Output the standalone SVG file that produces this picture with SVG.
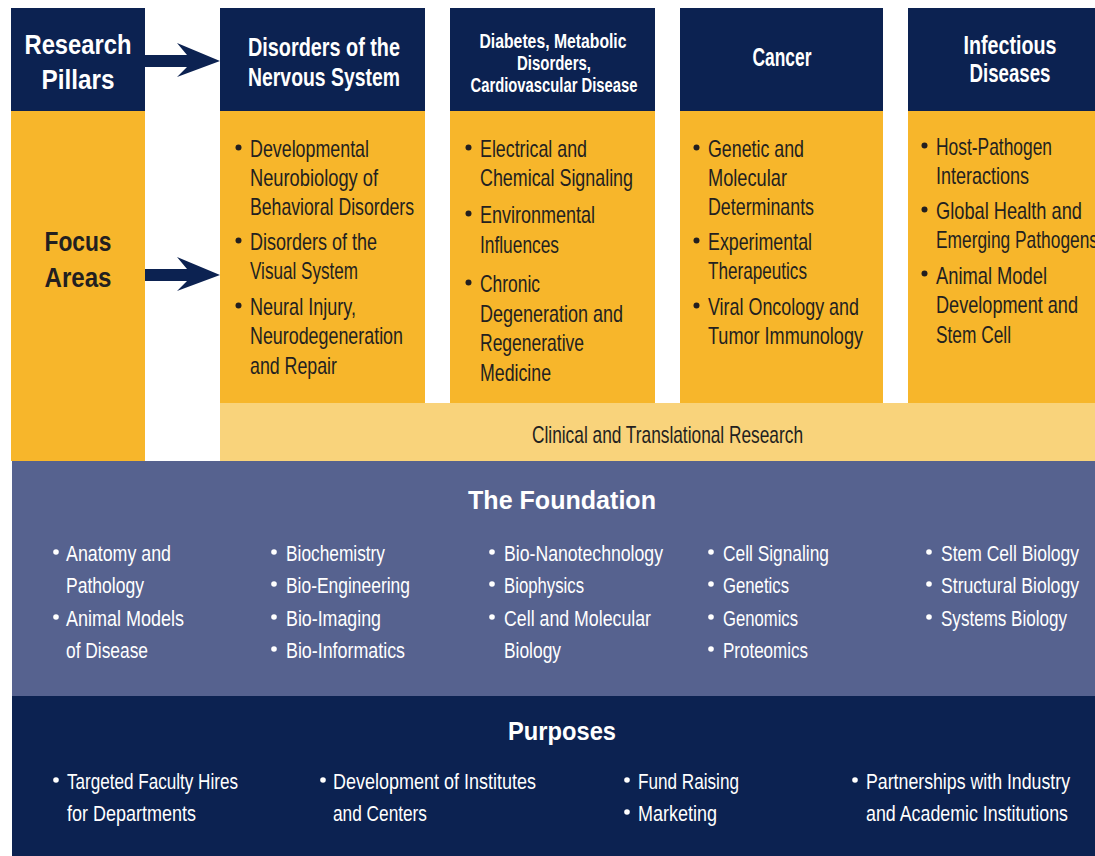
<svg xmlns="http://www.w3.org/2000/svg" width="1095" height="856" viewBox="0 0 1095 856">
<style>
.navy{fill:#0c2251}
.gold{fill:#f7b62b}
.pale{fill:#f9d37b}
.slate{fill:#56628f}
text{font-family:"Liberation Sans Narrow","Liberation Sans",Arial,sans-serif}
.h{font-weight:bold;fill:#ffffff;text-anchor:middle}
.hd{font-weight:bold;fill:#231f20;text-anchor:middle}
.t{fill:#231f20;font-size:24px}
.w{fill:#ffffff;font-size:22px}
.bd{fill:#231f20}
.bw{fill:#ffffff}
</style>
<defs>
<path id="arrow" d="M0,0 H42 L32,-12 L75,6 L32,22 L42,12 H0 Z"/>
</defs>
<rect width="1095" height="856" fill="#ffffff"/>

<g id="pillars-label">
<rect class="navy" x="11" y="8" width="134" height="103"/>
<text class="h" x="78" y="54" font-size="28" textLength="107" lengthAdjust="spacingAndGlyphs">Research</text>
<text class="h" x="78" y="89" font-size="28" textLength="73" lengthAdjust="spacingAndGlyphs">Pillars</text>
</g>
<g id="focus-label">
<rect class="gold" x="11" y="111" width="134" height="350"/>
<text class="hd" x="78" y="251" font-size="28" textLength="67" lengthAdjust="spacingAndGlyphs">Focus</text>
<text class="hd" x="78" y="287" font-size="28" textLength="67" lengthAdjust="spacingAndGlyphs">Areas</text>
</g>

<g id="clinical">
<rect class="pale" x="220" y="403" width="875" height="58"/>
<text class="t" x="532" y="443" font-size="23" textLength="271" lengthAdjust="spacingAndGlyphs">Clinical and Translational Research</text>
</g>

<g id="nervous">
<rect class="navy" x="220" y="8" width="205" height="103"/>
<text class="h" x="324" y="56" font-size="25" textLength="152" lengthAdjust="spacingAndGlyphs">Disorders of the</text>
<text class="h" x="324" y="86" font-size="25" textLength="152" lengthAdjust="spacingAndGlyphs">Nervous System</text>
<rect class="gold" x="220" y="111" width="205" height="292"/>
<circle class="bd" cx="238.5" cy="147.5" r="3"/>
<circle class="bd" cx="238.5" cy="240.5" r="3"/>
<circle class="bd" cx="238.5" cy="305.5" r="3"/>
<text class="t" x="250" y="157" textLength="119" lengthAdjust="spacingAndGlyphs">Developmental</text>
<text class="t" x="250" y="186" textLength="128" lengthAdjust="spacingAndGlyphs">Neurobiology of</text>
<text class="t" x="250" y="215" textLength="164" lengthAdjust="spacingAndGlyphs">Behavioral Disorders</text>
<text class="t" x="250" y="250" textLength="127" lengthAdjust="spacingAndGlyphs">Disorders of the</text>
<text class="t" x="250" y="279" textLength="108" lengthAdjust="spacingAndGlyphs">Visual System</text>
<text class="t" x="250" y="315" textLength="106" lengthAdjust="spacingAndGlyphs">Neural Injury,</text>
<text class="t" x="250" y="344" textLength="153" lengthAdjust="spacingAndGlyphs">Neurodegeneration</text>
<text class="t" x="250" y="374" textLength="87" lengthAdjust="spacingAndGlyphs">and Repair</text>
</g>

<g id="diabetes">
<rect class="navy" x="450" y="8" width="205" height="103"/>
<text class="h" x="553" y="48" font-size="20" textLength="147" lengthAdjust="spacingAndGlyphs">Diabetes, Metabolic</text>
<text class="h" x="554" y="70" font-size="20" textLength="74" lengthAdjust="spacingAndGlyphs">Disorders,</text>
<text class="h" x="554" y="92" font-size="20" textLength="167" lengthAdjust="spacingAndGlyphs">Cardiovascular Disease</text>
<rect class="gold" x="450" y="111" width="205" height="292"/>
<circle class="bd" cx="468.5" cy="147.5" r="3"/>
<circle class="bd" cx="468.5" cy="213.5" r="3"/>
<circle class="bd" cx="468.5" cy="282.5" r="3"/>
<text class="t" x="480" y="157" textLength="107" lengthAdjust="spacingAndGlyphs">Electrical and</text>
<text class="t" x="480" y="186" textLength="153" lengthAdjust="spacingAndGlyphs">Chemical Signaling</text>
<text class="t" x="480" y="223" textLength="115" lengthAdjust="spacingAndGlyphs">Environmental</text>
<text class="t" x="480" y="253" textLength="79" lengthAdjust="spacingAndGlyphs">Influences</text>
<text class="t" x="480" y="292" textLength="60" lengthAdjust="spacingAndGlyphs">Chronic</text>
<text class="t" x="480" y="322" textLength="143" lengthAdjust="spacingAndGlyphs">Degeneration and</text>
<text class="t" x="480" y="351" textLength="104" lengthAdjust="spacingAndGlyphs">Regenerative</text>
<text class="t" x="480" y="381" textLength="71" lengthAdjust="spacingAndGlyphs">Medicine</text>
</g>

<g id="cancer">
<rect class="navy" x="680" y="8" width="203" height="103"/>
<text class="h" x="782" y="66" font-size="25" textLength="59" lengthAdjust="spacingAndGlyphs">Cancer</text>
<rect class="gold" x="680" y="111" width="203" height="292"/>
<circle class="bd" cx="696.5" cy="147.5" r="3"/>
<circle class="bd" cx="696.5" cy="240.5" r="3"/>
<circle class="bd" cx="696.5" cy="305.5" r="3"/>
<text class="t" x="708" y="157" textLength="96" lengthAdjust="spacingAndGlyphs">Genetic and</text>
<text class="t" x="708" y="186" textLength="79" lengthAdjust="spacingAndGlyphs">Molecular</text>
<text class="t" x="708" y="215" textLength="106" lengthAdjust="spacingAndGlyphs">Determinants</text>
<text class="t" x="708" y="250" textLength="104" lengthAdjust="spacingAndGlyphs">Experimental</text>
<text class="t" x="708" y="279" textLength="99" lengthAdjust="spacingAndGlyphs">Therapeutics</text>
<text class="t" x="708" y="315" textLength="151" lengthAdjust="spacingAndGlyphs">Viral Oncology and</text>
<text class="t" x="708" y="344" textLength="155" lengthAdjust="spacingAndGlyphs">Tumor Immunology</text>
</g>

<g id="infectious">
<rect class="navy" x="908" y="8" width="187" height="103"/>
<text class="h" x="1010" y="54" font-size="25" textLength="93" lengthAdjust="spacingAndGlyphs">Infectious</text>
<text class="h" x="1010" y="82" font-size="25" textLength="81" lengthAdjust="spacingAndGlyphs">Diseases</text>
<rect class="gold" x="908" y="111" width="187" height="292"/>
<circle class="bd" cx="924.5" cy="145.5" r="3"/>
<circle class="bd" cx="924.5" cy="209.5" r="3"/>
<circle class="bd" cx="924.5" cy="273.5" r="3"/>
<text class="t" x="936" y="155" textLength="116" lengthAdjust="spacingAndGlyphs">Host-Pathogen</text>
<text class="t" x="936" y="184" textLength="93" lengthAdjust="spacingAndGlyphs">Interactions</text>
<text class="t" x="936" y="219" textLength="146" lengthAdjust="spacingAndGlyphs">Global Health and</text>
<text class="t" x="936" y="248" textLength="162" lengthAdjust="spacingAndGlyphs">Emerging Pathogens</text>
<text class="t" x="936" y="284" textLength="111" lengthAdjust="spacingAndGlyphs">Animal Model</text>
<text class="t" x="936" y="313" textLength="142" lengthAdjust="spacingAndGlyphs">Development and</text>
<text class="t" x="936" y="343" textLength="75" lengthAdjust="spacingAndGlyphs">Stem Cell</text>
</g>

<g id="foundation">
<rect class="slate" x="12" y="461" width="1083" height="235"/>
<text class="h" x="562" y="509" font-size="26" textLength="188" lengthAdjust="spacingAndGlyphs">The Foundation</text>
<g class="bw">
<circle cx="56" cy="552" r="2.8"/><circle cx="56" cy="617" r="2.8"/>
<circle cx="274" cy="552" r="2.8"/><circle cx="274" cy="584" r="2.8"/><circle cx="274" cy="617" r="2.8"/><circle cx="274" cy="649" r="2.8"/>
<circle cx="492" cy="552" r="2.8"/><circle cx="492" cy="584" r="2.8"/><circle cx="492" cy="617" r="2.8"/>
<circle cx="711" cy="552" r="2.8"/><circle cx="711" cy="584" r="2.8"/><circle cx="711" cy="617" r="2.8"/><circle cx="711" cy="649" r="2.8"/>
<circle cx="929" cy="552" r="2.8"/><circle cx="929" cy="584" r="2.8"/><circle cx="929" cy="617" r="2.8"/>
</g>
<text class="w" x="66" y="561" textLength="105" lengthAdjust="spacingAndGlyphs">Anatomy and</text>
<text class="w" x="66" y="593" textLength="78" lengthAdjust="spacingAndGlyphs">Pathology</text>
<text class="w" x="66" y="626" textLength="118" lengthAdjust="spacingAndGlyphs">Animal Models</text>
<text class="w" x="66" y="658" textLength="82" lengthAdjust="spacingAndGlyphs">of Disease</text>
<text class="w" x="286" y="561" textLength="99" lengthAdjust="spacingAndGlyphs">Biochemistry</text>
<text class="w" x="286" y="593" textLength="124" lengthAdjust="spacingAndGlyphs">Bio-Engineering</text>
<text class="w" x="286" y="626" textLength="95" lengthAdjust="spacingAndGlyphs">Bio-Imaging</text>
<text class="w" x="286" y="658" textLength="119" lengthAdjust="spacingAndGlyphs">Bio-Informatics</text>
<text class="w" x="504" y="561" textLength="159" lengthAdjust="spacingAndGlyphs">Bio-Nanotechnology</text>
<text class="w" x="504" y="593" textLength="80" lengthAdjust="spacingAndGlyphs">Biophysics</text>
<text class="w" x="504" y="626" textLength="147" lengthAdjust="spacingAndGlyphs">Cell and Molecular</text>
<text class="w" x="504" y="658" textLength="57" lengthAdjust="spacingAndGlyphs">Biology</text>
<text class="w" x="723" y="561" textLength="106" lengthAdjust="spacingAndGlyphs">Cell Signaling</text>
<text class="w" x="723" y="593" textLength="66" lengthAdjust="spacingAndGlyphs">Genetics</text>
<text class="w" x="723" y="626" textLength="75" lengthAdjust="spacingAndGlyphs">Genomics</text>
<text class="w" x="723" y="658" textLength="85" lengthAdjust="spacingAndGlyphs">Proteomics</text>
<text class="w" x="941" y="561" textLength="138" lengthAdjust="spacingAndGlyphs">Stem Cell Biology</text>
<text class="w" x="941" y="593" textLength="138" lengthAdjust="spacingAndGlyphs">Structural Biology</text>
<text class="w" x="941" y="626" textLength="126" lengthAdjust="spacingAndGlyphs">Systems Biology</text>
</g>

<g id="purposes">
<rect class="navy" x="12" y="696" width="1083" height="160"/>
<text class="h" x="562" y="740" font-size="26" textLength="108" lengthAdjust="spacingAndGlyphs">Purposes</text>
<g class="bw">
<circle cx="56" cy="780" r="2.8"/>
<circle cx="323" cy="780" r="2.8"/>
<circle cx="627" cy="780" r="2.8"/><circle cx="627" cy="812" r="2.8"/>
<circle cx="855" cy="780" r="2.8"/>
</g>
<text class="w" x="67" y="789" textLength="171" lengthAdjust="spacingAndGlyphs">Targeted Faculty Hires</text>
<text class="w" x="67" y="821" textLength="129" lengthAdjust="spacingAndGlyphs">for Departments</text>
<text class="w" x="333" y="789" textLength="203" lengthAdjust="spacingAndGlyphs">Development of Institutes</text>
<text class="w" x="333" y="821" textLength="94" lengthAdjust="spacingAndGlyphs">and Centers</text>
<text class="w" x="638" y="789" textLength="101" lengthAdjust="spacingAndGlyphs">Fund Raising</text>
<text class="w" x="638" y="821" textLength="79" lengthAdjust="spacingAndGlyphs">Marketing</text>
<text class="w" x="866" y="789" textLength="204" lengthAdjust="spacingAndGlyphs">Partnerships with Industry</text>
<text class="w" x="866" y="821" textLength="202" lengthAdjust="spacingAndGlyphs">and Academic Institutions</text>
</g>

<g id="connectors">
<use href="#arrow" class="navy" x="145" y="55"/>
<use href="#arrow" class="navy" x="145" y="269"/>
</g>
</svg>
